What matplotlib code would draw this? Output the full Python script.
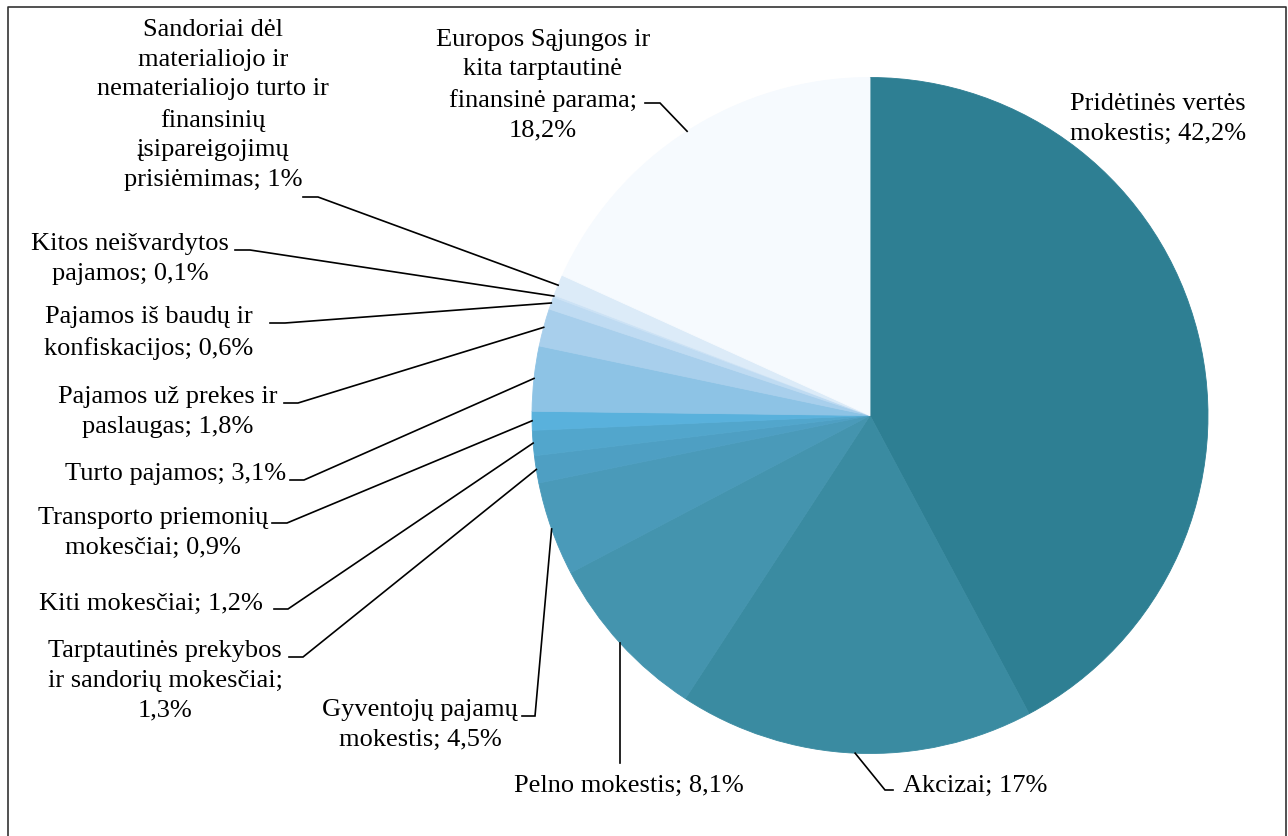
import numpy as np
import matplotlib
matplotlib.use("Agg")
import matplotlib.pyplot as plt

plt.rcParams['font.family'] = ['Liberation Serif', 'DejaVu Serif']

# duomenys (laikrodžio rodyklės kryptimi nuo viršaus)
labels = [
    "Pridėtinės vertės\nmokestis; 42,2%",
    "Akcizai; 17%",
    "Pelno mokestis; 8,1%",
    "Gyventojų pajamų\nmokestis; 4,5%",
    "Tarptautinės prekybos\nir sandorių mokesčiai;\n1,3%",
    "Kiti mokesčiai; 1,2%",
    "Transporto priemonių\nmokesčiai; 0,9%",
    "Turto pajamos; 3,1%",
    "Pajamos už prekes ir\npaslaugas; 1,8%",
    "Pajamos iš baudų ir\nkonfiskacijos; 0,6%",
    "Kitos neišvardytos\npajamos; 0,1%",
    "Sandoriai dėl\nmaterialiojo ir\nnematerialiojo turto ir\nfinansinių\nįsipareigojimų\nprisiėmimas; 1%",
    "Europos Sąjungos ir\nkita tarptautinė\nfinansinė parama;\n18,2%",
]
values = [42.2, 17, 8.1, 4.5, 1.3, 1.2, 0.9, 3.1, 1.8, 0.6, 0.1, 1, 18.2]
colors = ["#2E7F93", "#3A8BA1", "#4494AE", "#4A9AB9", "#4E9FC3", "#52A6CC",
          "#59B1DC", "#8DC3E5", "#A8CFEC", "#BFDBF2", "#CCE2F5", "#DCEBF8",
          "#F6FAFE"]

W, H = 1288, 836
cx, cy, R = 870, H - 415.5, 338

# užrašų vietos (pikseliai nuo viršaus): centras x, centras y
lab_xy = [(1158, 119), (975, 786), (629, 786), (420, 725), (165, 681),
          (151, 604), (153, 533), (176, 474), (168, 412), (149, 333),
          (130, 259), (213, 105), (543, 85)]
# jungties pradžia ir lūžis
stubs = [None, ((893, 790), (885, 790)), ((620, 763), (620, 763)),
         ((522, 716), (535, 716)), ((289, 657), (303, 657)),
         ((274, 609), (288, 609)), ((272, 523), (287, 523)),
         ((290, 480), (304, 480)), ((284, 403), (298, 403)),
         ((270, 323), (285, 323)), ((235, 250), (250, 250)),
         ((303, 197), (318, 197)), ((645, 103), (660, 103))]

fig = plt.figure(figsize=(W / 100, H / 100), dpi=100)
ax = fig.add_axes([0, 0, 1, 1])

wedges, _ = ax.pie(values, colors=colors, startangle=90, counterclock=False,
                   center=(cx, cy), radius=R,
                   wedgeprops=dict(linewidth=0.6, edgecolor="none"))
for w, c in zip(wedges, colors):
    w.set_edgecolor(c)

cum = np.cumsum([0] + values[:-1])
for i, v in enumerate(values):
    tx, ty = lab_xy[i]
    ax.text(tx, H - ty, labels[i], ha="center", va="center", fontsize=19,
            linespacing=1.45, multialignment="center")
    if stubs[i] is None:
        continue
    mid = np.deg2rad((cum[i] + v / 2) * 3.6)
    px = cx + R * np.sin(mid)
    py = cy + R * np.cos(mid)
    (x0, y0), (x1, y1) = stubs[i]
    ax.plot([x0, x1, px], [H - y0, H - y1, py], color="black", lw=1.2,
            solid_joinstyle="miter")

# rėmelis
ax.plot([8, 8, 1286, 1286], [-5, H - 7, H - 7, -5], color="#333333", lw=1.2)

ax.set_xlim(0, W)
ax.set_ylim(0, H)
ax.set_aspect("equal")
ax.axis("off")

fig.savefig("out.png", dpi=100, facecolor="white")
